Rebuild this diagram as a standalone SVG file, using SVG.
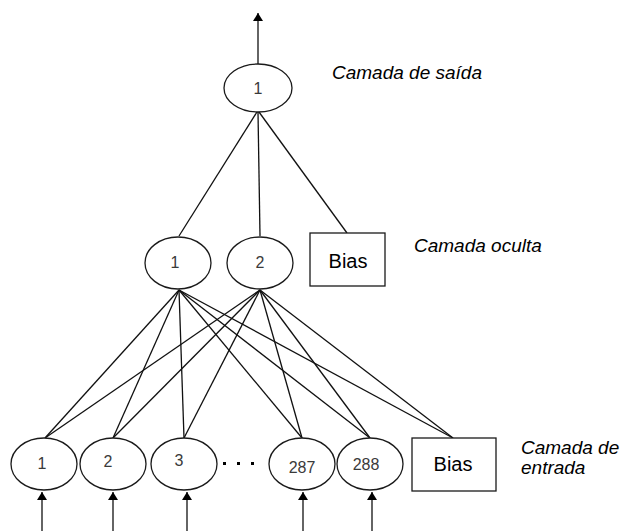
<svg xmlns="http://www.w3.org/2000/svg" width="626" height="531" viewBox="0 0 626 531">
  <style>
    .node { fill: #ffffff; stroke: #1a1a1a; stroke-width: 1.3; }
    .edge { stroke: #111111; stroke-width: 1.3; fill: none; }
    .num { font-family: "Liberation Sans", Arial, sans-serif; font-size: 16px; fill: #3a3a3a; text-anchor: middle; }
    .bias { font-family: "Liberation Sans", Arial, sans-serif; font-size: 20px; fill: #000000; text-anchor: middle; }
    .layer { font-family: "Liberation Sans", Arial, sans-serif; font-size: 19px; font-style: italic; fill: #000000; }
  </style>
  <defs>
    <marker id="arrow" viewBox="0 0 8 10" refX="8" refY="5" markerWidth="8" markerHeight="10" markerUnits="userSpaceOnUse" orient="auto">
      <path d="M0,0 L8,5 L0,10 Z" fill="#000000"/>
    </marker>
  </defs>
  <rect width="626" height="531" fill="#ffffff"/>

  <g id="connectors">
    <!-- output signal -->
    <line class="edge" x1="258" y1="64" x2="258" y2="13" marker-end="url(#arrow)"/>
    <!-- hidden layer to output -->
    <line class="edge" x1="257" y1="112" x2="179" y2="236"/>
    <line class="edge" x1="258" y1="112" x2="260" y2="236"/>
    <line class="edge" x1="259" y1="112" x2="347" y2="233"/>
    <!-- input layer to hidden neuron 1 -->
    <line class="edge" x1="179" y1="290" x2="45" y2="438"/>
    <line class="edge" x1="179" y1="290" x2="113" y2="438"/>
    <line class="edge" x1="179" y1="290" x2="184" y2="438"/>
    <line class="edge" x1="179" y1="290" x2="302" y2="438"/>
    <line class="edge" x1="179" y1="290" x2="370" y2="438"/>
    <line class="edge" x1="179" y1="290" x2="453" y2="438"/>
    <!-- input layer to hidden neuron 2 -->
    <line class="edge" x1="260" y1="290" x2="45" y2="438"/>
    <line class="edge" x1="260" y1="290" x2="113" y2="438"/>
    <line class="edge" x1="260" y1="290" x2="184" y2="438"/>
    <line class="edge" x1="260" y1="290" x2="302" y2="438"/>
    <line class="edge" x1="260" y1="290" x2="370" y2="438"/>
    <line class="edge" x1="260" y1="290" x2="453" y2="438"/>
    <!-- input signals -->
    <line class="edge" x1="42" y1="531" x2="42" y2="492" marker-end="url(#arrow)"/>
    <line class="edge" x1="113" y1="531" x2="113" y2="492" marker-end="url(#arrow)"/>
    <line class="edge" x1="187" y1="531" x2="187" y2="492" marker-end="url(#arrow)"/>
    <line class="edge" x1="303" y1="531" x2="303" y2="492" marker-end="url(#arrow)"/>
    <line class="edge" x1="372" y1="531" x2="372" y2="492" marker-end="url(#arrow)"/>
  </g>

  <!-- output layer -->
  <g id="out-1">
    <ellipse class="node" cx="258" cy="88" rx="34" ry="24"/>
    <text class="num" x="258" y="94">1</text>
  </g>
  <text class="layer" x="332" y="79">Camada de saída</text>

  <!-- hidden layer -->
  <g id="hid-1">
    <ellipse class="node" cx="178" cy="263" rx="33" ry="26"/>
    <text class="num" x="175" y="268">1</text>
  </g>
  <g id="hid-2">
    <ellipse class="node" cx="260" cy="263" rx="33" ry="26"/>
    <text class="num" x="260" y="268">2</text>
  </g>
  <g id="hid-bias">
    <rect class="node" x="310" y="233" width="75" height="53"/>
    <text class="bias" x="348" y="268">Bias</text>
  </g>
  <text class="layer" x="414" y="252">Camada oculta</text>

  <!-- input layer -->
  <g id="in-1">
    <ellipse class="node" cx="44" cy="464" rx="33" ry="26"/>
    <text class="num" x="42" y="469">1</text>
  </g>
  <g id="in-2">
    <ellipse class="node" cx="113" cy="464" rx="33" ry="26"/>
    <text class="num" x="108" y="467">2</text>
  </g>
  <g id="in-3">
    <ellipse class="node" cx="184" cy="464" rx="33" ry="26"/>
    <text class="num" x="179" y="466">3</text>
  </g>
  <g id="ellipsis">
    <rect x="223" y="462" width="3" height="3" fill="#000000"/>
    <rect x="237" y="462" width="3" height="3" fill="#000000"/>
    <rect x="251" y="462" width="3" height="3" fill="#000000"/>
  </g>
  <g id="in-287">
    <ellipse class="node" cx="302" cy="464" rx="33" ry="26"/>
    <text class="num" x="302" y="473">287</text>
  </g>
  <g id="in-288">
    <ellipse class="node" cx="370" cy="464" rx="33" ry="26"/>
    <text class="num" x="366" y="470">288</text>
  </g>
  <g id="in-bias">
    <rect class="node" x="412" y="438" width="84" height="53"/>
    <text class="bias" x="453" y="471">Bias</text>
  </g>
  <text class="layer" x="521" y="454">Camada de</text>
  <text class="layer" x="521" y="474">entrada</text>
</svg>
